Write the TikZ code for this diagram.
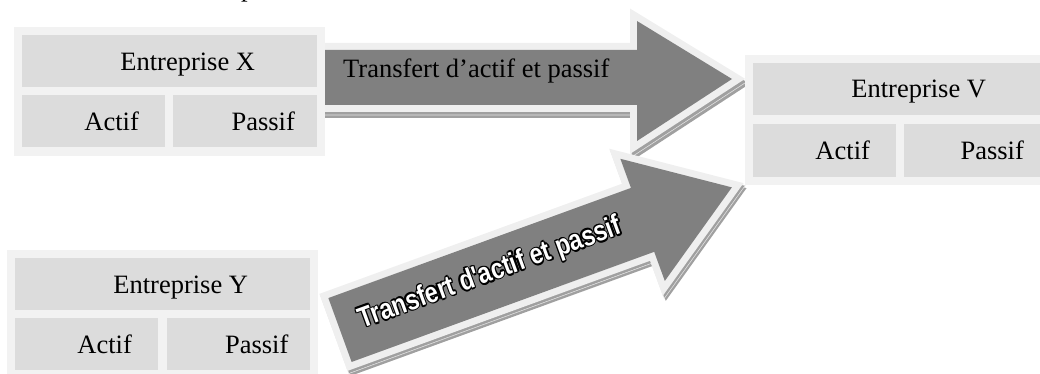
\documentclass[tikz,border=0pt]{standalone}
\usepackage{fontspec}
\usepackage{graphicx}
\setmainfont{Liberation Serif}
\newfontfamily\wordartfont{Liberation Sans}
\definecolor{framegray}{HTML}{F2F2F2}
\definecolor{cellgray}{HTML}{DCDCDC}
\definecolor{arrowgray}{HTML}{808080}
\definecolor{rimgray}{HTML}{EFEFEF}
\definecolor{shadegray}{HTML}{A0A0A0}
\definecolor{shadelight}{HTML}{E4E4E4}
% white letters with a black outline
\newcommand\ringtext[1]{\leavevmode
  \rlap{\color{black}\kern1.6pt#1}\rlap{\color{black}\kern-1.6pt#1}%
  \rlap{\color{black}\raisebox{1.6pt}{#1}}\rlap{\color{black}\raisebox{-1.6pt}{#1}}%
  \rlap{\color{black}\kern1.1pt\raisebox{1.1pt}{#1}}\rlap{\color{black}\kern-1.1pt\raisebox{1.1pt}{#1}}%
  \rlap{\color{black}\kern1.1pt\raisebox{-1.1pt}{#1}}\rlap{\color{black}\kern-1.1pt\raisebox{-1.1pt}{#1}}%
  {\color{white}#1}}
\tikzset{
  outerbox/.style={fill=framegray, inner sep=0pt, anchor=north west},
  cellbox/.style={fill=cellgray, inner sep=0pt, anchor=north west, minimum height=52pt},
  celltext/.style={anchor=base, inner sep=0pt, font=\fontsize{26.5}{30}\selectfont},
  harrowpath/.style={insert path={(300,50) -- (637,50) -- (637,21) -- (732,79) -- (637,141) -- (637,105) -- (300,105) -- cycle}},
  darrowpath/.style={insert path={(0,-34) -- (322,-34) -- (322,-65) -- (417,0) -- (322,65) -- (322,34) -- (0,34) -- cycle}},
  arrowshade/.style={draw=shadegray, line width=14pt, line join=miter},
  shadeseam/.style={draw=shadelight, line width=14.7pt, line join=miter},
  shadefill/.style={draw=shadegray, line width=13.3pt, line join=miter},
  arrowrim/.style={draw=rimgray, line width=14pt, line join=miter},
  arrowbody/.style={fill=arrowgray}
}
\begin{document}
\begin{tikzpicture}[x=1pt, y=-1pt]
\useasboundingbox (0,0) rectangle (1040,374);
\clip (0,0) rectangle (1040,374);

% fragment of a line of text above the picture
\node[anchor=base west, inner sep=0pt, font=\fontsize{26.5}{30}\selectfont] (toptext) at (241,-3) {p};

% horizontal arrow X -> V: shadow with a light seam, rim, body
\draw[arrowshade, shift={(3,6)}, harrowpath];
\draw[shadeseam, shift={(1.5,3)}, harrowpath];
\draw[shadefill, shift={(1.5,3)}, harrowpath];
\draw[arrowrim, harrowpath];
\fill[arrowbody, harrowpath];
\node[anchor=base west, inner sep=0pt, font=\fontsize{26.5}{30}\selectfont] (hlabel) at (343,78) {Transfert d’actif et passif};

% slanted arrow Y -> V
\begin{scope}[shift={(3,5)}]
  \begin{scope}[shift={(340,330)}, rotate=20]
    \draw[arrowshade, darrowpath];
  \end{scope}
\end{scope}
\begin{scope}[shift={(1.5,2.5)}]
  \begin{scope}[shift={(340,330)}, rotate=20]
    \draw[shadeseam, darrowpath];
    \draw[shadefill, darrowpath];
  \end{scope}
\end{scope}
\begin{scope}[shift={(340,330)}, rotate=20]
  \draw[arrowrim, darrowpath];
  \fill[arrowbody, darrowpath];
  \node[anchor=base, inner sep=0pt, rotate=20] (dlabel) at (160.5,6)
    {\scalebox{0.82}[1]{\wordartfont\bfseries\fontsize{28.7}{32}\selectfont\ringtext{Transfert d'actif et passif}}};
\end{scope}

% Entreprise X
\node[outerbox, minimum width=311pt, minimum height=129pt] (xframe) at (14,27) {};
\node[cellbox, minimum width=295pt] (xhead) at (22,35) {};
\node[cellbox, minimum width=143pt] (xact) at (22,95) {};
\node[cellbox, minimum width=144pt] (xpas) at (173,95) {};
\node[celltext] (xheadt) at ([shift={(18,9)}]xhead.center) {Entreprise X};
\node[celltext] (xactt) at ([shift={(18,9)}]xact.center) {Actif};
\node[celltext] (xpast) at ([shift={(18,9)}]xpas.center) {Passif};

% Entreprise Y
\node[outerbox, minimum width=311pt, minimum height=128pt] (yframe) at (7,250) {};
\node[cellbox, minimum width=295pt] (yhead) at (15,258) {};
\node[cellbox, minimum width=143pt] (yact) at (15,318) {};
\node[cellbox, minimum width=143pt] (ypas) at (167,318) {};
\node[celltext] (yheadt) at ([shift={(18,9)}]yhead.center) {Entreprise Y};
\node[celltext] (yactt) at ([shift={(18,9)}]yact.center) {Actif};
\node[celltext] (ypast) at ([shift={(18,9)}]ypas.center) {Passif};

% Entreprise V
\node[outerbox, minimum width=311pt, minimum height=130pt] (vframe) at (745,55) {};
\node[cellbox, minimum width=295pt] (vhead) at (753,63) {};
\node[cellbox, minimum width=143pt, minimum height=53pt] (vact) at (753,124) {};
\node[cellbox, minimum width=144pt, minimum height=53pt] (vpas) at (904,124) {};
\node[celltext] (vheadt) at ([shift={(18,8)}]vhead.center) {Entreprise V};
\node[celltext] (vactt) at ([shift={(18,9)}]vact.center) {Actif};
\node[celltext] (vpast) at ([shift={(16,9)}]vpas.center) {Passif};
\end{tikzpicture}
\end{document}
